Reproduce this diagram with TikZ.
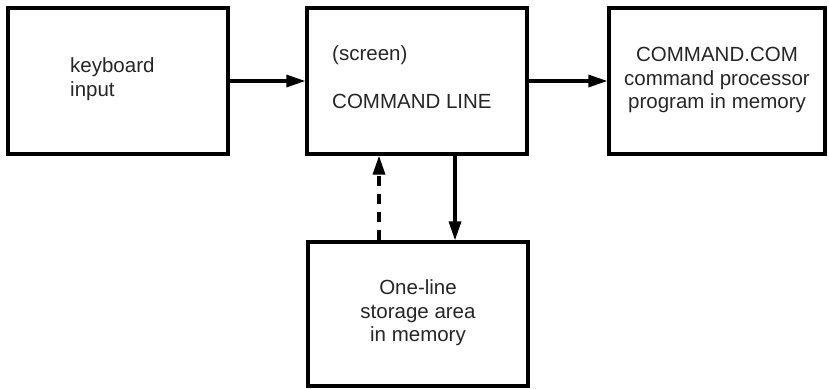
\documentclass[tikz,border=0pt]{standalone}
\usepackage{fontspec}
\setmainfont{Liberation Sans}
\usetikzlibrary{arrows.meta}
\tikzset{%
    blk/.style={draw, line width=3.2pt, minimum height=146pt, inner sep=0pt},
    lbl/.style={font=\fontsize{20.5}{23.5}\selectfont, text=black!85, inner sep=0pt},
    flow/.style={line width=3.2pt, -{Triangle[length=19pt,width=12pt]}}
}

\begin{document}
\begin{tikzpicture}[x=1pt,y=-1pt]
        \useasboundingbox (0,0) rectangle (829,388);
        \node[blk, minimum width=220pt] (kbd) at (118,81){};
        \node[blk, minimum width=220pt] (cmdline) at (417,81){};
        \node[blk, minimum width=216pt] (cmdcom) at (717,81){};
        \node[blk, minimum width=220pt, minimum height=144pt] (store) at (418,314){};
        % box texts
        \node[lbl, anchor=west, align=left] (kbdtxt) at (70,79){keyboard\\input};
        \node[lbl, anchor=west] (scr) at (332,55){(screen)};
        \node[lbl, anchor=west] (cl) at (332,101){COMMAND LINE};
        \node[lbl, align=center] (comtxt) at (717,80){COMMAND.COM\\command processor\\program in memory};
        \node[lbl, align=center] (storetxt) at (418,313){One-line\\storage area\\in memory};
        % connectors
        \draw[flow] (kbd) -- (cmdline);
        \draw[flow] (cmdline) -- (cmdcom);
        \draw[flow] ([xshift=38pt]cmdline.south) -- ([xshift=38pt]cmdline.south |- store.north);
        \draw[flow, dash pattern=on 10pt off 8pt] ([xshift=-38pt]cmdline.south |- store.north) -- ([xshift=-38pt]cmdline.south);
    \end{tikzpicture}
\end{document}
